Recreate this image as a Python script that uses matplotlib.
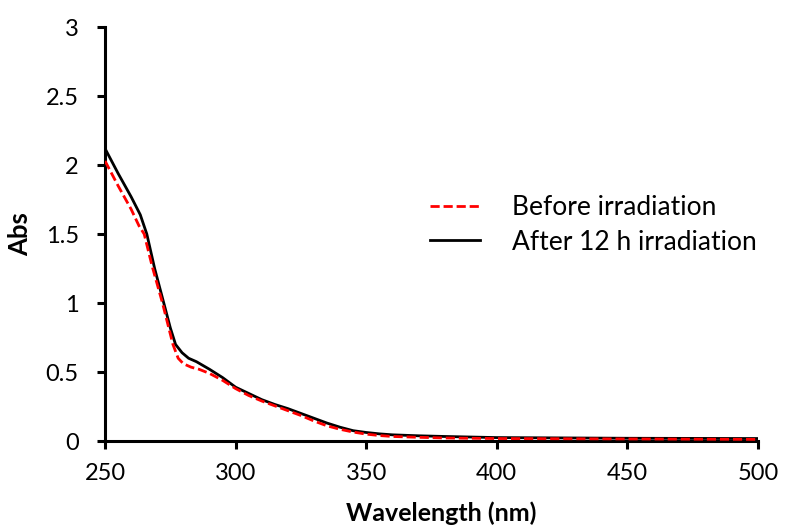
import matplotlib.pyplot as plt

# UV-vis spectra, values
wl_after = [250, 255, 260, 263.5, 266, 269, 272.5, 275, 277, 279.5, 282, 285, 290, 295, 300,
            305, 310, 315, 320, 325, 330, 335, 340, 345, 350, 355, 360, 370, 380, 400, 450, 500]
abs_after = [2.12, 1.94, 1.77, 1.64, 1.5, 1.25, 1.0, 0.82, 0.7, 0.64, 0.6, 0.575, 0.52, 0.46, 0.39,
             0.345, 0.3, 0.265, 0.235, 0.2, 0.165, 0.13, 0.1, 0.075, 0.062, 0.052, 0.045, 0.038,
             0.033, 0.025, 0.02, 0.018]

wl_before = [250, 255, 260, 263, 265, 268, 272, 274, 276, 278, 280, 283, 286, 290, 295, 300,
             305, 310, 315, 320, 325, 330, 335, 340, 345, 350, 355, 360, 370, 380, 400, 450, 500]
abs_before = [2.03, 1.85, 1.68, 1.56, 1.5, 1.27, 1.0, 0.85, 0.7, 0.6, 0.56, 0.535, 0.52, 0.49, 0.44,
              0.38, 0.33, 0.29, 0.255, 0.22, 0.185, 0.145, 0.11, 0.085, 0.065, 0.05, 0.04, 0.033,
              0.027, 0.022, 0.018, 0.015, 0.012]

x_ticks = [250, 300, 350, 400, 450, 500]
y_ticks = [0, 0.5, 1, 1.5, 2, 2.5, 3]
y_tick_labels = ['0', '0.5', '1', '1.5', '2', '2.5', '3']

plt.rcParams['font.family'] = ['Lato', 'DejaVu Sans']

fig = plt.figure(figsize=(7.85, 5.32), dpi=100)
ax = fig.add_axes([0.1338, 0.171, 0.8318, 0.778])

ax.plot(wl_before, abs_before, color='#ff0000', linestyle=(0, (3.3, 1.4)), linewidth=2.0,
        label='Before irradiation', zorder=3)
ax.plot(wl_after, abs_after, color='black', linewidth=2.0,
        label='After 12 h irradiation', zorder=2)

ax.set_xlim(250, 500)
ax.set_ylim(0, 3)
ax.set_xticks(x_ticks)
ax.set_yticks(y_ticks)
ax.set_yticklabels(y_tick_labels)
ax.tick_params(axis='both', labelsize=17, width=2.2, length=6, direction='out')
ax.tick_params(axis='x', pad=9.5)
ax.tick_params(axis='y', pad=13)

for side in ['top', 'right']:
    ax.spines[side].set_visible(False)
for side in ['left', 'bottom']:
    ax.spines[side].set_linewidth(2.2)

ax.set_xlabel('Wavelength (nm)', fontsize=18, fontweight='bold')
ax.set_ylabel('Abs', fontsize=18.5, fontweight='bold')
ax.xaxis.set_label_coords(0.5145, -0.145)
ax.yaxis.set_label_coords(-0.112, 0.5)

ax.legend(loc='center left', bbox_to_anchor=(430 / 785, 1 - 225 / 532),
          bbox_transform=fig.transFigure, frameon=False, fontsize=19,
          handlelength=1.9, handletextpad=1.2, labelspacing=0.35,
          borderpad=0, borderaxespad=0)

fig.savefig('out.png', dpi=100)
